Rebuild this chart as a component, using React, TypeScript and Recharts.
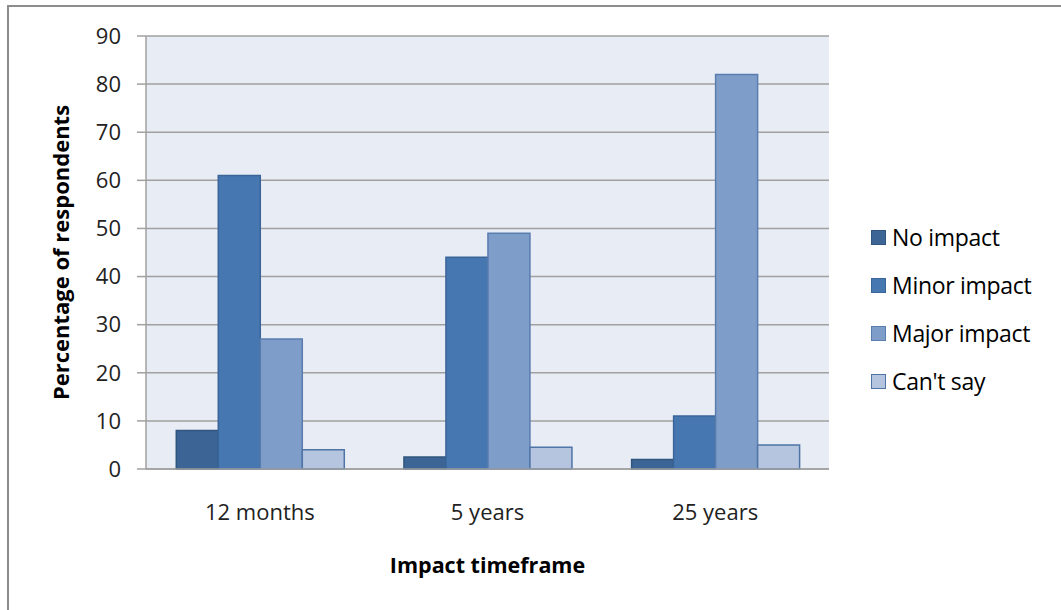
import { Bar, BarChart, CartesianGrid, Label, XAxis, YAxis } from "recharts";

const timeframes = ["12 months", "5 years", "25 years"];
const noImpact = [8, 2.5, 2];
const minorImpact = [61, 44, 11];
const majorImpact = [27, 49, 82];
const cantSay = [4, 4.5, 5];
const yTicks = [0, 10, 20, 30, 40, 50, 60, 70, 80, 90];

const series = [
  { key: "noImpact", name: "No impact", fill: "#3c6595", stroke: "#30557f" },
  { key: "minorImpact", name: "Minor impact", fill: "#4777b1", stroke: "#3a6598" },
  { key: "majorImpact", name: "Major impact", fill: "#7f9dc9", stroke: "#5a7db0" },
  { key: "cantSay", name: "Can't say", fill: "#b5c4df", stroke: "#4f74a6" },
];

const data = timeframes.map((t, i) => ({
  timeframe: t,
  noImpact: noImpact[i],
  minorImpact: minorImpact[i],
  majorImpact: majorImpact[i],
  cantSay: cantSay[i],
}));

const font = "'Open Sans', sans-serif";

// legend sits to the right of the plot, outside recharts so it takes no plot space
function LegendBox() {
  return (
    <div
      style={{
        position: "absolute",
        left: 862,
        top: 206,
        fontFamily: font,
        fontSize: 23,
        color: "#000",
        letterSpacing: -0.3,
      }}
    >
      {series.map((s) => (
        <div key={s.key} style={{ display: "flex", alignItems: "center", height: 48 }}>
          <span
            style={{
              width: 13,
              height: 13,
              background: s.fill,
              border: `1px solid ${s.stroke}`,
              marginRight: 6,
              flexShrink: 0,
            }}
          />
          {s.name}
        </div>
      ))}
    </div>
  );
}

export default function App() {
  return (
    <div
      style={{
        position: "absolute",
        left: 7,
        top: 5,
        width: 1054,
        height: 605,
        borderLeft: "2px solid #8c8c8c",
        borderTop: "2px solid #8c8c8c",
        boxSizing: "border-box",
        background: "#fff",
      }}
    >
      <BarChart
        width={1052}
        height={603}
        data={data}
        margin={{ top: 29, right: 232, bottom: 0, left: 0 }}
        barCategoryGap="13.3%"
        barGap={0}
      >
        <CartesianGrid vertical={false} stroke="#a0a0a0" strokeWidth={1.5} fill="#e8ecf4" />
        <XAxis
          dataKey="timeframe"
          axisLine={{ stroke: "#a0a0a0", strokeWidth: 1.5 }}
          tickLine={false}
          tick={{ fill: "#222", fontSize: 22, fontFamily: font }}
          tickMargin={29}
          height={141}
        >
          <Label
            value="Impact timeframe"
            position="insideBottom"
            offset={37}
            style={{ fontFamily: font, fontSize: 21.5, fontWeight: 700, fill: "#000" }}
          />
        </XAxis>
        <YAxis
          width={137}
          domain={[0, 90]}
          ticks={yTicks}
          interval={0}
          axisLine={{ stroke: "#a0a0a0", strokeWidth: 1.5 }}
          tickLine={{ stroke: "#a0a0a0", strokeWidth: 1.5 }}
          tickSize={9}
          tickMargin={16}
          tick={{ fill: "#222", fontSize: 22, fontFamily: font }}
        >
          <Label
            content={({ viewBox }: any) => {
              const cx = 51;
              const cy = viewBox.y + viewBox.height / 2;
              return (
                <text
                  x={cx}
                  y={cy}
                  transform={`rotate(-90, ${cx}, ${cy})`}
                  textAnchor="middle"
                  dominantBaseline="central"
                  style={{ fontFamily: font, fontSize: 22, fontWeight: 700, fill: "#000" }}
                >
                  Percentage of respondents
                </text>
              );
            }}
          />
        </YAxis>
        {series.map((s) => (
          <Bar
            key={s.key}
            dataKey={s.key}
            name={s.name}
            fill={s.fill}
            stroke={s.stroke}
            strokeWidth={1.5}
            isAnimationActive={false}
          />
        ))}
      </BarChart>
      <LegendBox />
    </div>
  );
}
